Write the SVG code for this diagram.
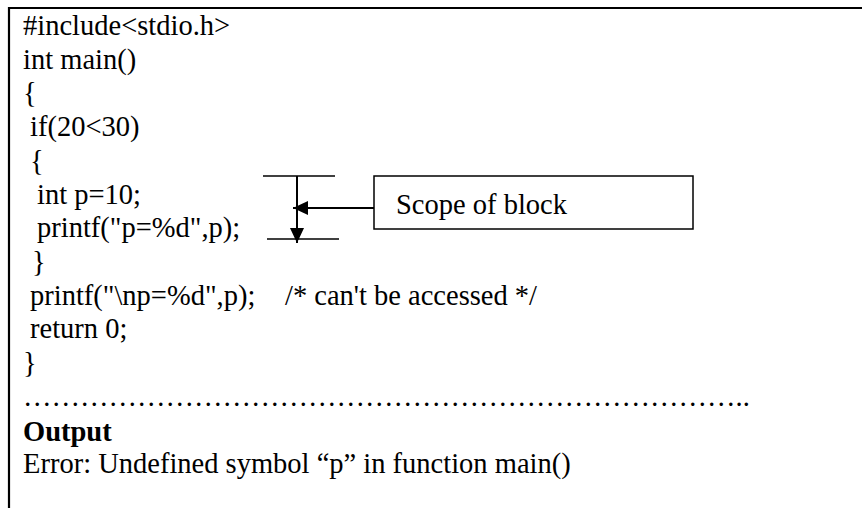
<svg xmlns="http://www.w3.org/2000/svg" width="862" height="508" viewBox="0 0 862 508">
<style>
  .t { font-family: "Liberation Serif", "Times New Roman", serif; font-size: 28.5px; fill: #000; }
  .b { font-weight: bold; }
  .ln { stroke: #000; fill: none; }
</style>
<defs>
  <marker id="ah" markerUnits="userSpaceOnUse" markerWidth="16" markerHeight="14" refX="15" refY="7" orient="auto">
    <path d="M0,0 L15,7 L0,14 z" fill="#000"/>
  </marker>
</defs>
<rect width="862" height="508" fill="#fff"/>
<g id="frame">
  <path class="ln" stroke-width="2.2" d="M9,508 V8 H862"/>
</g>
<g id="code">
  <text class="t" x="23" y="35">#include&lt;stdio.h&gt;</text>
  <text class="t" x="23" y="68.7">int main()</text>
  <text class="t" x="23" y="102.4">{</text>
  <text class="t" x="30" y="136.1">if(20&lt;30)</text>
  <text class="t" x="30" y="169.8">{</text>
  <text class="t" x="37" y="203.5">int p=10;</text>
  <text class="t" x="37" y="237.2">printf("p=%d",p);</text>
  <text class="t" x="32" y="270.9">}</text>
  <text class="t" x="30" y="304.6">printf("\np=%d",p);<tspan x="285">/* can't be accessed */</tspan></text>
  <text class="t" x="30" y="338.3">return 0;</text>
  <text class="t" x="23" y="372">}</text>
  <text class="t" x="23" y="405.7">&#8230;&#8230;&#8230;&#8230;&#8230;&#8230;&#8230;&#8230;&#8230;&#8230;&#8230;&#8230;&#8230;&#8230;&#8230;&#8230;&#8230;&#8230;&#8230;&#8230;&#8230;&#8230;&#8230;&#8230;&#8230;..</text>
  <text class="t b" x="23" y="440.5">Output</text>
  <text class="t" x="23" y="473.1">Error: Undefined symbol “p” in function main()</text>
</g>
<g id="scope-box">
  <rect x="374" y="176" width="319" height="53" fill="#fff" stroke="#000" stroke-width="1.5"/>
  <text class="t" x="396" y="214">Scope of block</text>
</g>
<g id="connectors">
  <line class="ln" stroke-width="1.5" x1="263" y1="176" x2="335" y2="176"/>
  <line class="ln" stroke-width="1.5" x1="267" y1="239" x2="339" y2="239"/>
  <line class="ln" stroke-width="2" x1="297" y1="176" x2="297" y2="243" marker-end="url(#ah)"/>
  <line class="ln" stroke-width="2" x1="374" y1="208" x2="293" y2="208" marker-end="url(#ah)"/>
</g>
</svg>
